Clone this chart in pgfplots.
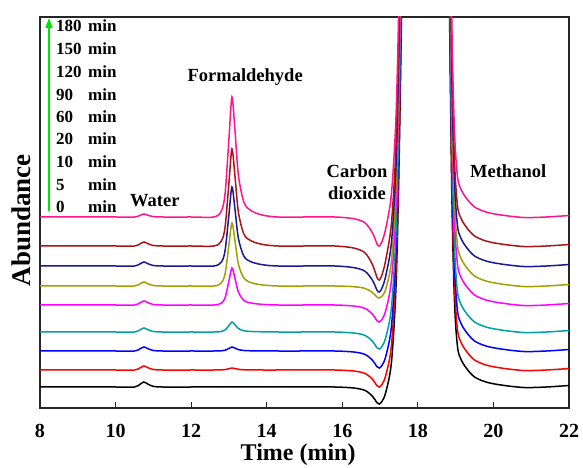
\documentclass[border=0pt]{standalone}
\usepackage{fontspec}
\setmainfont{Liberation Serif}
\usepackage{pgfplots}
\usepackage{pgfplotstable}
\pgfplotsset{compat=1.18}
\usetikzlibrary{arrows.meta}

\definecolor{cpink}{RGB}{255,20,140}
\definecolor{cbrown}{RGB}{170,20,20}
\definecolor{cnavy}{RGB}{25,25,150}
\definecolor{colive}{RGB}{160,160,0}
\definecolor{cmag}{RGB}{255,0,255}
\definecolor{cteal}{RGB}{0,160,160}
\definecolor{cblue}{RGB}{0,0,255}
\definecolor{cred}{RGB}{255,0,0}
\definecolor{cgreen}{RGB}{0,230,0}

% chromatograms, stacked (x = time in min, y = offset abundance)
\pgfplotstableread{
x     k     r     bl    t     m     o     n     br    p
8.0   21    38    57    76    103   122   142   162   191
9.0   21    38    57    76    103   122   142   162   191
10.0  21    38    57    76    103   122   142   162   191
10.5  21    38    57    76    103   122   142   162   191
10.65 23.8  40.2  59.2  78.2  105.2 124.2 144.2 164.2 192.7
10.75 26    42    61    80    107   126   146   166   194
10.85 24    40.4  59.4  78.4  105.4 124.4 144.4 164.4 192.8
11.0  21.6  38.5  57.5  76.5  103.5 122.5 142.5 162.5 191.4
11.25 21    38    57    76    103   122   142   162   191
12.0  21    38    57    76    103   122   142   162   191
12.6  21    38    57    76    103   122   142   162   191
12.8  21    38.1  57.2  76.5  104.9 125.2 146   166.9 197
12.9  21    38.4  57.8  78    110.4 134.6 157.8 181.4 215
13.0  21    39.3  59.6  82.5  127.1 163   193.4 225.1 269
13.08 21    40    61    86    140   185   221   259   311
13.16 21    39.4  59.9  83.2  129.6 167.4 198.9 231.8 277.4
13.25 21    38.7  58.4  79.5  116   144   169.7 196   233
13.4  21    38.2  57.5  77.2  107.4 129.6 151.5 173.6 205.4
13.6  21    38.1  57.2  76.5  104.9 125.2 146   166.9 197
13.9  21    38    57.1  76.2  103.6 123   143.2 163.5 192.8
14.3  21    38    57    76    103   122   142   162   191
15.0  21    38    57    76    103   122   142   162   191
15.8  21    38    57    76    103   122   142   162   191
16.3  20    37    56    75    102   121.3 140.4 160   189.3
16.6  17.6  34.6  53.6  72.6  99.6  119.6 136.8 155.2 185.2
16.8  11.7  28.7  47.7  66.7  93.7  115.4 127.7 143.3 175
16.92 5.2   22.2  41.2  60.2  87.2  110.8 117.8 130.4 164
16.98 4     21    40    59    86    110   116   128   162
17.05 6.6   23.6  42.6  61.6  88.6  111.8 119.9 133.1 166.4
17.15 15.5  32.5  51.5  70.5  97.5  119   132   148   179.5
17.3  45.3  62.3  81.3  100.3 127.3 146.8 165.4 184.6 214.1
17.42 120   137   156   175   202   221   241   261   290
17.5  240   257   276   295   322   341   361   381   410
17.58 420   437   456   475   502   521   541   561   590
17.7  700   700   700   700   700   700   700   700   700
18.7  700   700   700   700   700   700   700   700   700
18.82 441   458   477   496   523   542   562   582   611
18.9  211   228   247   266   293   312   332   352   381
18.97 106   123   142   161   188   207   227   247   276
19.05 61    78    97    116   143   162   182   202   231
19.15 48    65    84    103   130   149   169   189   218
19.3  39    56    75    94    121   140   160   180   209
19.5  31    48    67    86    113   132   152   172   201
19.8  26    43    62    81    108   127   147   167   196
20.2  23    40    59    78    105   124   144   164   193
20.8  20.5  37.5  56.5  75.5  102.5 121.5 141.5 161.5 190.5
21.4  21    38    57    76    103   122   142   162   191
22.0  22.5  39.5  58.5  77.5  104.5 123.5 143.5 163.5 192.5
}\chrom

\begin{document}
\begin{tikzpicture}
\begin{axis}[
    scale only axis,
    width=529pt, height=391pt,
    xmin=8, xmax=22, ymin=0, ymax=391,
    xtick={8,10,...,22},
    ytick=\empty,
    xtick pos=left,
    tick align=inside,
    major tick length=6pt,
    axis line style={black!85, line width=1.3pt},
    every tick/.style={black!85, line width=1.1pt},
    /pgf/number format/assume math mode=true,
    xticklabel style={font=\bfseries\fontsize{20}{20}\selectfont, yshift=-13pt},
    xlabel={Time (min)},
    ylabel={Abundance},
    xlabel style={font=\bfseries\fontsize{24}{24}\selectfont,
        at={(axis description cs:0.488,0)}, anchor=base, yshift=-52pt},
    ylabel style={font=\bfseries\fontsize{27}{27}\selectfont,
        at={(axis description cs:0,0.48)}, anchor=south, yshift=6pt},
    every axis plot/.append style={line width=1.5pt, smooth, tension=0.5, no marks},
]
\addplot[black]  table[x=x, y=k]  {\chrom};
\addplot[cred]   table[x=x, y=r]  {\chrom};
\addplot[cblue]  table[x=x, y=bl] {\chrom};
\addplot[cteal]  table[x=x, y=t]  {\chrom};
\addplot[cmag]   table[x=x, y=m]  {\chrom};
\addplot[colive] table[x=x, y=o]  {\chrom};
\addplot[cnavy]  table[x=x, y=n]  {\chrom};
\addplot[cbrown] table[x=x, y=br] {\chrom};
\addplot[cpink]  table[x=x, y=p]  {\chrom};

% time legend with arrow
\draw[-{Triangle[width=7pt,length=10pt]}, cgreen, line width=1.6pt]
    (axis cs:8.238,197) -- (axis cs:8.238,390);
\begin{scope}[every node/.style={font=\bfseries\fontsize{17}{17}\selectfont, anchor=west, inner sep=0pt}]
\node at (axis cs:8.42,382) {180};
\node at (axis cs:8.42,359) {150};
\node at (axis cs:8.42,336) {120};
\node at (axis cs:8.42,313) {90};
\node at (axis cs:8.42,291) {60};
\node at (axis cs:8.42,269) {20};
\node at (axis cs:8.42,246) {10};
\node at (axis cs:8.42,223) {5};
\node at (axis cs:8.42,201) {0};
\node at (axis cs:9.27,382) {min};
\node at (axis cs:9.27,359) {min};
\node at (axis cs:9.27,336) {min};
\node at (axis cs:9.27,313) {min};
\node at (axis cs:9.27,291) {min};
\node at (axis cs:9.27,269) {min};
\node at (axis cs:9.27,246) {min};
\node at (axis cs:9.27,223) {min};
\node at (axis cs:9.27,201) {min};
\end{scope}

\begin{scope}[every node/.style={font=\bfseries\fontsize{18.5}{18.5}\selectfont}]
\node at (axis cs:11.04,207) {Water};
\node at (axis cs:13.43,331) {Formaldehyde};
\node[align=center] at (axis cs:16.39,226) {Carbon\\[3pt]dioxide};
\node at (axis cs:20.39,237) {Methanol};
\end{scope}
\end{axis}
\pgfresetboundingbox
\path ([shift={(-40pt,-60pt)}]current axis.south west)
    rectangle ([shift={(14pt,17pt)}]current axis.north east);
\end{tikzpicture}
\end{document}
